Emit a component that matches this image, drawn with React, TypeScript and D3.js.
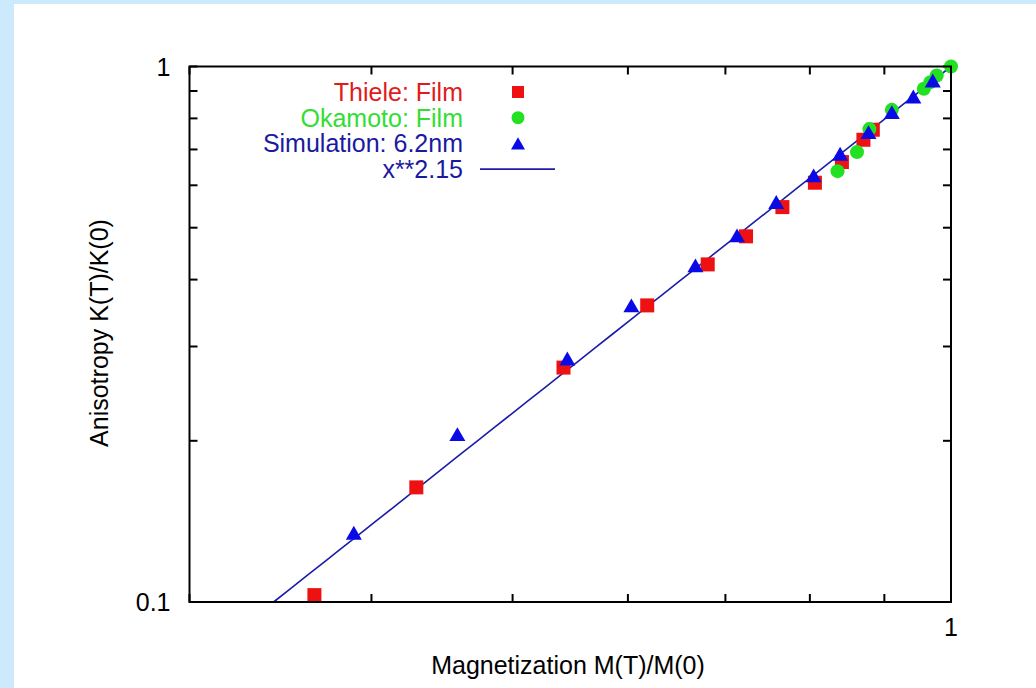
import React from "react";
import * as d3 from "d3";

// Reduced magnetization M(T)/M(0) and anisotropy K(T)/K(0)
const thieleM = [0.3655, 0.4294, 0.5419, 0.6186, 0.6807, 0.7232, 0.766, 0.8064, 0.8416, 0.8707, 0.8837];
const thieleK = [0.103, 0.1637, 0.274, 0.358, 0.427, 0.4818, 0.5463, 0.6067, 0.6631, 0.7298, 0.7619];

const okamotoM = [0.8358, 0.8619, 0.879, 0.9107, 0.958, 0.968, 0.9777, 1.0];
const okamotoK = [0.6377, 0.692, 0.764, 0.83, 0.9087, 0.935, 0.962, 1.0];

const simM = [0.389, 0.4582, 0.5452, 0.6033, 0.6676, 0.713, 0.7586, 0.8048, 0.8392, 0.8777, 0.9107, 0.9422, 0.9716];
const simK = [0.1347, 0.2058, 0.2849, 0.358, 0.4253, 0.4839, 0.5584, 0.6263, 0.6873, 0.7542, 0.822, 0.879, 0.9417];

const fitExponent = 2.15;

const xTicks = [0.3, 0.4, 0.5, 0.6, 0.7, 0.8, 0.9, 1];
const yTicks = [0.1, 0.2, 0.3, 0.4, 0.5, 0.6, 0.7, 0.8, 0.9, 1];
const xTickLabels = [{ v: 1, t: "1" }];
const yTickLabels = [{ v: 1, t: "1" }, { v: 0.1, t: "0.1" }];

const legendItems = [
  { label: "Thiele: Film", color: "#e01b1b", kind: "square" },
  { label: "Okamoto: Film", color: "#33dd33", kind: "circle" },
  { label: "Simulation: 6.2nm", color: "#1a1aa0", kind: "triangle" },
  { label: "x**2.15", color: "#1a1aa0", kind: "line" },
];

const W = 1036;
const H = 688;
const L = 189.5, R = 951, T = 66.5, B = 602;

const RED = "#ee1111";
const GREEN = "#22e022";
const BLUE = "#0a0ae6";
const LINE = "#1c1ca8";
const FONT = "'Liberation Sans', Arial, Helvetica, sans-serif";
const FS = 25;

function tri(cx: number, cy: number, s: number) {
  const h = s * 0.866;
  return `M${cx},${cy - h / 2}L${cx + s / 2},${cy + h / 2}L${cx - s / 2},${cy + h / 2}Z`;
}

export default function App() {
  const x = d3.scaleLog().domain([0.3, 1]).range([L, R]);
  const y = d3.scaleLog().domain([0.1, 1]).range([B, T]);

  const xStart = Math.pow(0.1, 1 / fitExponent);
  const fitPts = d3.range(0, 41).map((i) => {
    const m = xStart * Math.pow(1 / xStart, i / 40);
    return [m, Math.pow(m, fitExponent)] as [number, number];
  });
  const fitLine = d3
    .line<[number, number]>()
    .x((d) => x(d[0]))
    .y((d) => y(d[1]))(fitPts);

  const tickLen = 8;
  const sq = 14;

  return (
    <svg
      width={W}
      height={H}
      style={{ position: "fixed", left: 0, top: 0, display: "block" }}
      fontFamily={FONT}
    >
      <rect x={0} y={0} width={W} height={H} fill="#ffffff" />
      <rect x={0} y={0} width={W} height={4} fill="#cdeafc" />
      <rect x={0} y={0} width={14} height={H} fill="#cdeafc" />

      {/* ticks on all four sides, pointing inward */}
      <g stroke="#000" strokeWidth={2}>
        {xTicks.map((v) => (
          <g key={"xt" + v}>
            <line x1={x(v)} x2={x(v)} y1={B} y2={B - tickLen} />
            <line x1={x(v)} x2={x(v)} y1={T} y2={T + tickLen} />
          </g>
        ))}
        {yTicks.map((v) => (
          <g key={"yt" + v}>
            <line x1={L} x2={L + tickLen} y1={y(v)} y2={y(v)} />
            <line x1={R} x2={R - tickLen} y1={y(v)} y2={y(v)} />
          </g>
        ))}
      </g>

      {/* fitted power law */}
      <path d={fitLine || ""} fill="none" stroke={LINE} strokeWidth={1.6} />

      {/* Thiele film data */}
      {thieleM.map((m, i) => (
        <rect
          key={"th" + i}
          x={x(m) - sq / 2}
          y={y(thieleK[i]) - sq / 2}
          width={sq}
          height={sq}
          fill={RED}
        />
      ))}
      {/* Okamoto film data */}
      {okamotoM.map((m, i) => (
        <circle key={"ok" + i} cx={x(m)} cy={y(okamotoK[i])} r={7} fill={GREEN} />
      ))}
      {/* simulation data */}
      {simM.map((m, i) => (
        <path key={"sim" + i} d={tri(x(m), y(simK[i]), 16)} fill={BLUE} />
      ))}

      {/* frame */}
      <rect x={L} y={T} width={R - L} height={B - T} fill="none" stroke="#000" strokeWidth={2} />

      {/* tick labels */}
      <g fontSize={FS} fill="#000">
        {yTickLabels.map((d) => (
          <text key={"yl" + d.t} x={L - 19} y={y(d.v)} dy="0.36em" textAnchor="end">
            {d.t}
          </text>
        ))}
        {xTickLabels.map((d) => (
          <text key={"xl" + d.t} x={x(d.v)} y={B + 34} textAnchor="middle">
            {d.t}
          </text>
        ))}
      </g>

      {/* axis titles */}
      <text x={568} y={674} fontSize={FS} textAnchor="middle" fill="#000">
        Magnetization M(T)/M(0)
      </text>
      <text
        transform="translate(108,333) rotate(-90)"
        fontSize={FS}
        textAnchor="middle"
        fill="#000"
      >
        Anisotropy K(T)/K(0)
      </text>

      {/* legend */}
      <g fontSize={FS}>
        {legendItems.map((it, i) => {
          const cy = 92 + i * 25.7;
          const sx = 518;
          let sym: React.ReactNode = null;
          if (it.kind === "square")
            sym = <rect x={sx - 6} y={cy - 6} width={12} height={12} fill={RED} />;
          else if (it.kind === "circle") sym = <circle cx={sx} cy={cy} r={6.5} fill={GREEN} />;
          else if (it.kind === "triangle") sym = <path d={tri(sx, cy, 14)} fill={BLUE} />;
          else sym = <line x1={480} x2={555} y1={cy} y2={cy} stroke={LINE} strokeWidth={1.6} />;
          return (
            <g key={it.label}>
              <text x={463} y={cy} dy="0.36em" textAnchor="end" fill={it.color}>
                {it.label}
              </text>
              {sym}
            </g>
          );
        })}
      </g>
    </svg>
  );
}
